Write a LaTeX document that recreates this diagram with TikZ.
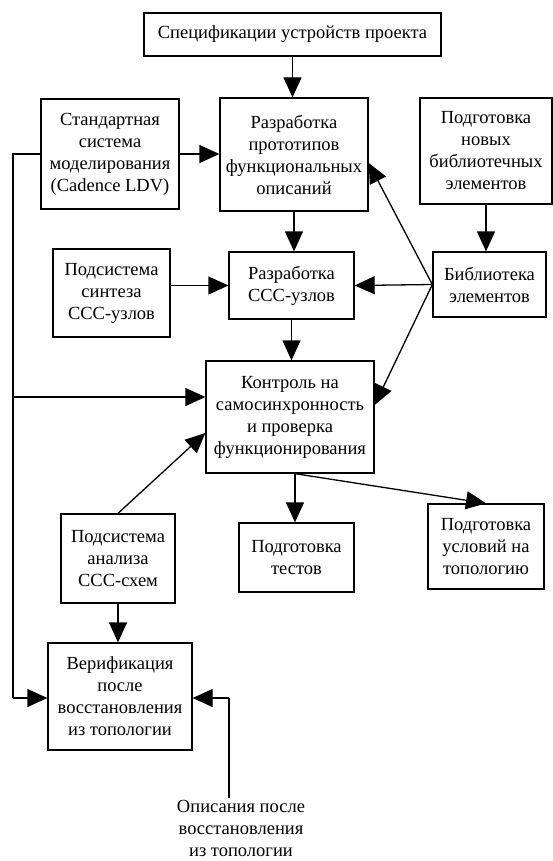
\documentclass[tikz,border=0pt]{standalone}
\usepackage{fontspec}
\setmainfont{Liberation Serif}
\usetikzlibrary{arrows.meta,calc}
\tikzset{
  box/.style={draw, line width=1.3pt, align=center, inner sep=0pt, font=\fontsize{18.5}{22}\selectfont},
  plain/.style={align=center, inner sep=0pt, font=\fontsize{18.5}{22}\selectfont},
  conn/.style={line width=1.3pt},
  arr/.style={line width=1.3pt, -{Triangle[length=20pt 0,width=18pt 0]}}
}
\begin{document}
\begin{tikzpicture}[x=1pt,y=-1pt]
\useasboundingbox[fill=white] (0,0) rectangle (553,861);
% boxes
\node[box, minimum width=297pt, minimum height=43pt] (spec) at (292.5,34.5) {Спецификации устройств проекта};
\node[box, minimum width=138pt, minimum height=110pt] (std) at (110,154) {Стандартная\\система\\моделирования\\(Cadence LDV)};
\node[box, minimum width=148pt, minimum height=113pt] (proto) at (294,154.5) {Разработка\\прототипов\\функциональных\\описаний};
\node[box, minimum width=132pt, minimum height=106pt] (newlib) at (486,151) {Подготовка\\новых\\библиотечных\\элементов};
\node[box, minimum width=117pt, minimum height=88pt] (synth) at (111.5,293) {Подсистема\\синтеза\\ССС-узлов};
\node[box, minimum width=125pt, minimum height=67pt] (ccc) at (291.5,285.5) {Разработка\\ССС-узлов};
\node[box, minimum width=113pt, minimum height=65pt] (lib) at (489.5,284.5) {Библиотека\\элементов};
\node[box, minimum width=168pt, minimum height=112pt] (ctrl) at (290,417) {Контроль на\\самосинхронность\\и проверка\\функционирования};
\node[box, minimum width=115pt, minimum height=69pt] (tests) at (296.5,557.5) {Подготовка\\тестов};
\node[box, minimum width=116pt, minimum height=85pt] (topo) at (486,546.5) {Подготовка\\условий на\\топологию};
\node[box, minimum width=114pt, minimum height=89pt] (anal) at (118,558.5) {Подсистема\\анализа\\ССС-схем};
\node[box, minimum width=144pt, minimum height=107pt] (verif) at (120,696.5) {Верификация\\после\\восстановления\\из топологии};
\node[plain] (desc) at (241,828) {Описания после\\восстановления\\из топологии};
% coordinates
\coordinate (Ltop) at (13,154);
\coordinate (Lmid) at (13,397);
\coordinate (Lbot) at (13,698);
\coordinate (J) at (lib.west);
\coordinate (D) at (229,798);
\coordinate (Dt) at (229,698);
\coordinate (C) at ($(ctrl.south)+(5,0)$);
% connectors
\draw[arr] (spec.south) -- (spec.south |- proto.north);
\draw[arr] (std.east) -- (std.east -| proto.west);
\draw[conn] (std.west) -- (Ltop) -- (Lbot);
\draw[arr] (Lbot) -- (Lbot -| verif.west);
\draw[arr] (Lmid) -- (Lmid -| ctrl.west);
\draw[arr] (proto.south) -- (proto.south |- ccc.north);
\draw[arr] (newlib.south) -- (newlib.south |- lib.north);
\draw[arr] (synth.east |- ccc.west) -- (ccc.west);
\draw[arr] (J) -- (ccc.east);
\draw[arr] (J) -- ([yshift=-8.5pt]proto.east);
\draw[arr] (J) -- ([yshift=12pt]ctrl.east);
\draw[arr] (ccc.south) -- (ccc.south |- ctrl.north);
\draw[arr] (C) -- (C |- tests.north);
\draw[arr] (C) -- (topo.north);
\draw[arr] (anal.north) -- ([yshift=-16pt]ctrl.west);
\draw[arr] (anal.south) -- (anal.south |- verif.north);
\draw[conn] (D) -- (Dt);
\draw[arr] (Dt) -- (Dt -| verif.east);
\end{tikzpicture}
\end{document}
